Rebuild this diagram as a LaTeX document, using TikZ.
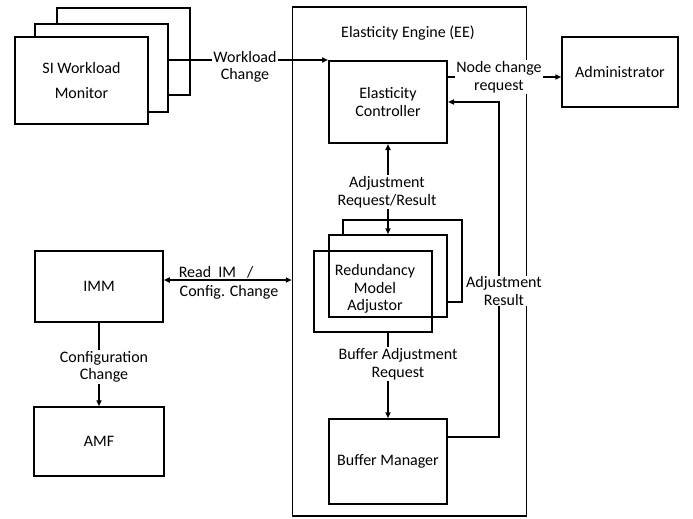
\documentclass[tikz,border=0pt]{standalone}
\usepackage{fontspec}
\setmainfont{Carlito}
\usetikzlibrary{arrows.meta}
\begin{document}
\begin{tikzpicture}[x=1pt,y=-1pt,
  box/.style={draw, line width=1.5pt, fill=white, inner sep=0pt, align=center},
  lbl/.style={fill=white, inner sep=1pt, align=center},
  plain/.style={inner sep=1pt, align=center},
  conn/.style={line width=1.5pt, -{Triangle[length=6pt,width=5pt]}},
  bconn/.style={line width=1.5pt, {Triangle[length=6pt,width=5pt]}-{Triangle[length=6pt,width=5pt]}},
  font=\fontsize{16}{17.5}\selectfont]
\useasboundingbox (0,0) rectangle (693,519);
% SI Workload Monitor stack
\node[box, minimum width=133pt, minimum height=87pt] (SIback) at (123.5,51.5) {};
\node[box, minimum width=133pt, minimum height=88pt] (SImid) at (101.5,68) {};
\node[box, minimum width=133pt, minimum height=87pt] (SI) at (81.5,80.5) {SI Workload\\[7pt]Monitor};
% Elasticity Engine
\node[box, fill=none, minimum width=234pt, minimum height=509pt] (EE) at (409.5,261.5) {};
\node[plain] (EEl) at (408,33) {Elasticity Engine (EE)};
% Elasticity Controller
\node[box, line width=2pt, minimum width=118pt, minimum height=82pt] (EC) at (388,102) {Elasticity\\Controller};
% Administrator
\node[box, minimum width=116pt, minimum height=70pt] (AD) at (620,72) {Administrator};
% Redundancy Model Adjustor stack
\node[box, minimum width=119pt, minimum height=82pt] (RMAback) at (402.5,261) {};
\node[box, minimum width=118pt, minimum height=82pt] (RMAmid) at (388,276) {};
\node[box, fill=none, minimum width=118pt, minimum height=81pt] (RMA) at (373,291.5) {};
\node[plain] (RMAl) at (375,289) {Redundancy\\Model\\Adjustor};
% Buffer Manager
\node[box, minimum width=118pt, minimum height=85pt] (BM) at (388,461.5) {Buffer Manager};
% IMM and AMF
\node[box, minimum width=128pt, minimum height=71pt] (IMM) at (99,286.5) {IMM};
\node[box, minimum width=130pt, minimum height=69pt] (AMF) at (99,441.5) {AMF};
% connectors
\draw[conn] (SImid.east |- EC.north) -- (EC.north west);
\node[lbl] (wl) at (245,67) {Workload\\Change};
\draw[conn] ([yshift=25pt]EC.east) coordinate (nc) -- (nc -| AD.west);
\node[lbl] (ncl) at (499,77) {Node change\\request};
\draw[conn] ([yshift=24.5pt]BM.east) -- ++(51pt,0) |- (EC.east);
\node[lbl] (arl) at (504,291) {Adjustment\\Result};
\draw[bconn] (EC.south) -- (RMAmid.north);
\node[lbl] (arr) at (387,192) {Adjustment\\Request/Result};
\draw[conn] (RMA.south -| BM.north) -- (BM.north);
\node[lbl] (bar) at (398,364) {Buffer Adjustment\\Request};
\draw[bconn] ([yshift=6.5pt]IMM.east) coordinate (ri) -- (ri -| EE.west);
\node[plain] (ril) at (216,272) {Read\ \ IM\ \ \ /};
\node[plain] (ccl) at (229,292) {Config. Change};
\draw[conn] (IMM.south) -- (AMF.north);
\node[lbl] (cfl) at (104,367) {Configuration\\Change};
\end{tikzpicture}
\end{document}
